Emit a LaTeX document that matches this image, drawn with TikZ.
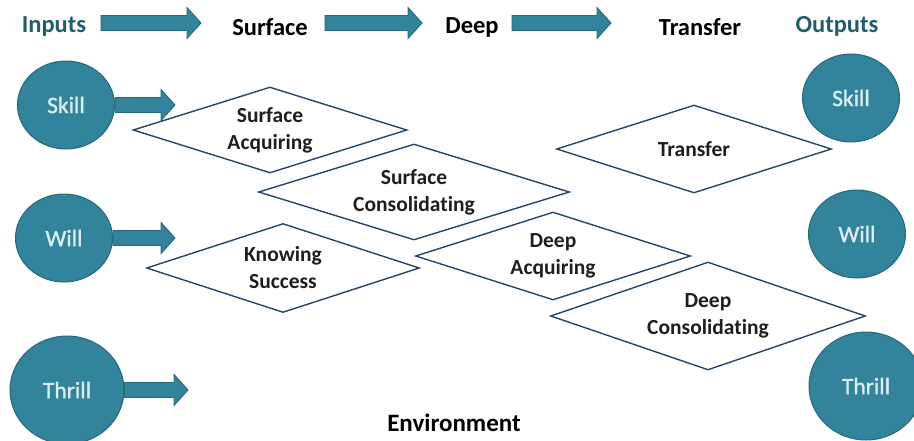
\documentclass[tikz,border=0pt]{standalone}
\usepackage{fontspec}
\setmainfont{Carlito}[Ligatures=NoCommon]
\newfontfamily\bubfont{Carlito}[FakeBold=1.2,Ligatures=NoCommon]
\usetikzlibrary{shapes.geometric,calc}
\definecolor{tealfill}{HTML}{31849B}
\definecolor{tealedge}{HTML}{27687A}
\definecolor{headteal}{HTML}{1F5E6D}
\definecolor{navyline}{HTML}{26446A}
\definecolor{darktxt}{HTML}{1E1E1E}
\definecolor{bubtxt}{HTML}{DCEEF2}
\newcommand\blockarr[2]{\draw[blockarrow] let \p1=#1, \p2=#2 in
  (\x1,\y1+7.5pt) -- (\x2-14pt,\y1+7.5pt) -- (\x2-14pt,\y1+15.5pt) -- (\x2,\y1)
  -- (\x2-14pt,\y1-15.5pt) -- (\x2-14pt,\y1-7.5pt) -- (\x1,\y1-7.5pt) -- cycle;}
\begin{document}
\begin{tikzpicture}[x=1pt,y=-1pt,
  head/.style={font=\fontsize{24.5}{28}\selectfont\bfseries, text=black, inner sep=0pt},
  headio/.style={head, text=headteal},
  bubble/.style={ellipse, fill=tealfill, draw=tealedge, line width=1pt, text=bubtxt,
    font=\fontsize{23.5}{26}\bubfont, minimum width=97pt, minimum height=88pt, inner sep=0pt},
  bigbubble/.style={bubble, minimum width=114pt, minimum height=108pt},
  rhomb/.style={diamond, draw=navyline, line width=1.4pt, inner sep=0pt, aspect=3,
    align=center, font=\fontsize{21.5}{27}\selectfont\bfseries, text=darktxt},
  blockarrow/.style={fill=tealfill, draw=tealedge, line width=0.9pt}
]
\useasboundingbox (0,0) rectangle (914,440);

% header row
\node[headio] (inputs) at (54,26) {Inputs};
\node[head] (hsurf) at (270,27) {Surface};
\node[head] (hdeep) at (472,27) {Deep};
\node[head] (htrans) at (700,27) {Transfer};
\node[headio] (outputs) at (837,26) {Outputs};
\coordinate (a1s) at (101,23); \coordinate (a1e) at (201,23);
\coordinate (a2s) at (325,23); \coordinate (a2e) at (422,23);
\coordinate (a3s) at (512,23); \coordinate (a3e) at (611,23);
\blockarr{(a1s)}{(a1e)}
\blockarr{(a2s)}{(a2e)}
\blockarr{(a3s)}{(a3e)}

% inputs
\node[bubble] (skillL) at (66,105) {Skill};
\node[bubble] (willL) at (64,238) {Will};
\node[bigbubble] (thrillL) at (67,390) {Thrill};
\coordinate (skillTip) at (175,104);
\coordinate (willTip) at (175,238);
\coordinate (thrillTip) at (188,390);
\blockarr{(skillL.east)}{(skillTip)}
\blockarr{(willL.east)}{(willTip)}
\blockarr{(thrillL.east)}{(thrillTip)}

% outputs
\node[bubble] (skillR) at (851,98) {Skill};
\node[bubble] (willR) at (857,234) {Will};
\node[bigbubble] (thrillR) at (866,386) {Thrill};

% diamonds
\node[rhomb, minimum width=274pt, minimum height=86pt] (sacq) at (270,130) {Surface\\Acquiring};
\node[rhomb, minimum width=311pt, minimum height=96pt] (scons) at (414,192) {Surface\\Consolidating};
\node[rhomb, minimum width=275pt, minimum height=88pt] (trans) at (694,149) {Transfer};
\node[rhomb, minimum width=273pt, minimum height=89pt] (know) at (283,268) {Knowing\\Success};
\node[rhomb, minimum width=275pt, minimum height=88pt] (dacq) at (553,256) {Deep\\Acquiring};
\node[rhomb, minimum width=315pt, minimum height=108pt] (dcons) at (708,316) {Deep\\Consolidating};

\node[head, font=\fontsize{25}{29}\selectfont\bfseries] (env) at (454,423) {Environment};
\end{tikzpicture}
\end{document}
